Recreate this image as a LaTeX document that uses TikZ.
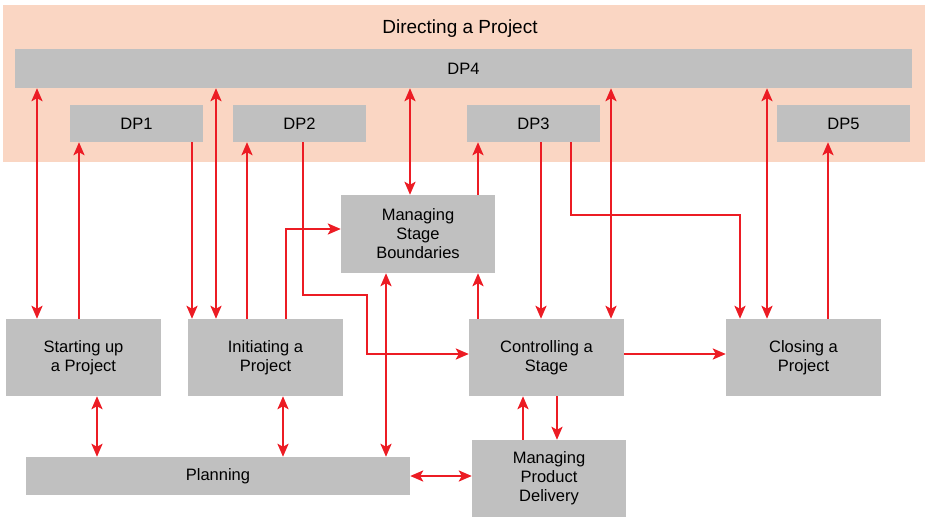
\documentclass[tikz,border=0pt]{standalone}
\usepackage{fontspec}
\setmainfont{Liberation Sans}
\usetikzlibrary{arrows.meta}
\definecolor{pinkbg}{RGB}{250,214,195}
\definecolor{boxgray}{RGB}{192,192,192}
\definecolor{arrred}{RGB}{236,28,36}
\begin{document}
\begin{tikzpicture}[x=1pt,y=-1pt,
  box/.style={fill=boxgray, inner sep=0pt, align=center, font=\fontsize{16.5}{19}\selectfont},
  tip/.tip={Stealth[length=13pt,width=11pt,inset=3pt]},
  one/.style={draw=arrred, line width=2.4pt, -tip},
  two/.style={draw=arrred, line width=2.4pt, tip-tip}]
\useasboundingbox (0,0) rectangle (930,527);
\fill[pinkbg] (3,5) rectangle (925,162);
\node[font=\fontsize{19}{22}\selectfont] (title) at (460,29) {Directing a Project};
% boxes
\node[box, minimum width=897, minimum height=39] (dp4) at (463.5,68.5) {DP4};
\node[box, minimum width=133, minimum height=37] (dp1) at (136.5,123.5) {DP1};
\node[box, minimum width=133, minimum height=37] (dp2) at (299.5,123.5) {DP2};
\node[box, minimum width=133, minimum height=37] (dp3) at (533.5,123.5) {DP3};
\node[box, minimum width=133, minimum height=37] (dp5) at (843.5,123.5) {DP5};
\node[box, minimum width=154, minimum height=78] (msb) at (418,234) {Managing\\Stage\\Boundaries};
\node[box, minimum width=155, minimum height=77] (start) at (83.5,357.5) {Starting up\\a Project};
\node[box, minimum width=155, minimum height=77] (init) at (265.5,357.5) {Initiating a\\Project};
\node[box, minimum width=155, minimum height=77] (ctrl) at (546.5,357.5) {Controlling a\\Stage};
\node[box, minimum width=155, minimum height=77] (close) at (803.5,357.5) {Closing a\\Project};
\node[box, minimum width=384, minimum height=38] (plan) at (218,476) {Planning};
\node[box, minimum width=154, minimum height=77] (mpd) at (549,478.5) {Managing\\Product\\Delivery};
% connectors
\draw[two] (37,0 |- dp4.south) -- (37,0 |- start.north);
\draw[one] (79,0 |- start.north) -- (79,0 |- dp1.south);
\draw[one] (192,0 |- dp1.south) -- (192,0 |- init.north);
\draw[two] (216,0 |- dp4.south) -- (216,0 |- init.north);
\draw[one] (247,0 |- init.north) -- (247,0 |- dp2.south);
\draw[one] (303,0 |- dp2.south) -- (303,295) -- (367,295) -- (367,354) -- (ctrl.west |- 0,354);
\draw[one] (286,0 |- init.north) -- (286,229) -- (msb.west |- 0,229);
\draw[two] (410,0 |- dp4.south) -- (410,0 |- msb.north);
\draw[one] (478,0 |- msb.north) -- (478,0 |- dp3.south);
\draw[one] (541,0 |- dp3.south) -- (541,0 |- ctrl.north);
\draw[one] (571,0 |- dp3.south) -- (571,215) -- (740,215) -- (740,0 |- close.north);
\draw[two] (611,0 |- dp4.south) -- (611,0 |- ctrl.north);
\draw[two] (767,0 |- dp4.south) -- (767,0 |- close.north);
\draw[one] (828,0 |- close.north) -- (828,0 |- dp5.south);
\draw[one] (478,0 |- ctrl.north) -- (478,0 |- msb.south);
\draw[two] (386,0 |- msb.south) -- (386,0 |- plan.north);
\draw[one] (ctrl.east |- 0,354) -- (close.west |- 0,354);
\draw[two] (97,0 |- start.south) -- (97,0 |- plan.north);
\draw[two] (283,0 |- init.south) -- (283,0 |- plan.north);
\draw[two] (plan.east) -- (mpd.west |- plan.east);
\draw[one] (523,0 |- mpd.north) -- (523,0 |- ctrl.south);
\draw[one] (557,0 |- ctrl.south) -- (557,0 |- mpd.north);
\end{tikzpicture}
\end{document}
